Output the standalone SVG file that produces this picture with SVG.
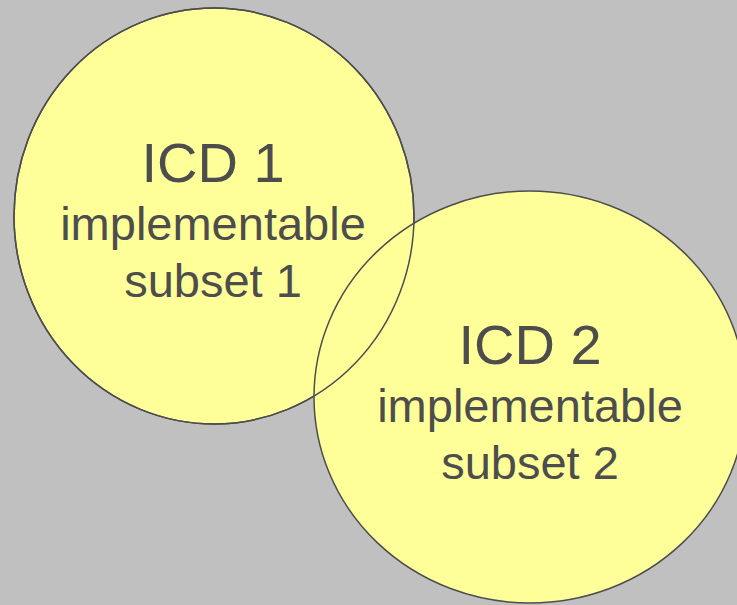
<svg xmlns="http://www.w3.org/2000/svg" xmlns:xlink="http://www.w3.org/1999/xlink" width="737" height="605" viewBox="0 0 737 605">
  <style>
    .set { fill: #ffff99; stroke: #4d4d4d; stroke-width: 1.5; }
    .edge { fill: none; stroke: #4d4d4d; stroke-width: 1.5; }
    .t { font-family: "Liberation Sans", Arial, sans-serif; fill: #4d4d4d; text-anchor: middle; }
    .title { font-size: 56px; }
    .sub { font-size: 47px; }
  </style>
  <defs>
    <ellipse id="shape1" cx="214" cy="216" rx="200" ry="208"/>
    <ellipse id="shape2" cx="530" cy="397" rx="216" ry="206"/>
  </defs>
  <rect width="737" height="605" fill="#c0c0c0"/>
  <g id="icd1">
    <use xlink:href="#shape1" class="set"/>
    <text class="t title" x="213" y="182">ICD 1</text>
    <text class="t sub" x="213" y="240">implementable</text>
    <text class="t sub" x="213" y="297">subset 1</text>
  </g>
  <g id="icd2">
    <use xlink:href="#shape2" class="set"/>
    <text class="t title" x="530" y="364">ICD 2</text>
    <text class="t sub" x="530" y="422">implementable</text>
    <text class="t sub" x="530" y="479">subset 2</text>
  </g>
  <!-- outline of the first set, kept visible across the overlap -->
  <g id="connectors">
    <use xlink:href="#shape1" class="edge"/>
  </g>
</svg>
